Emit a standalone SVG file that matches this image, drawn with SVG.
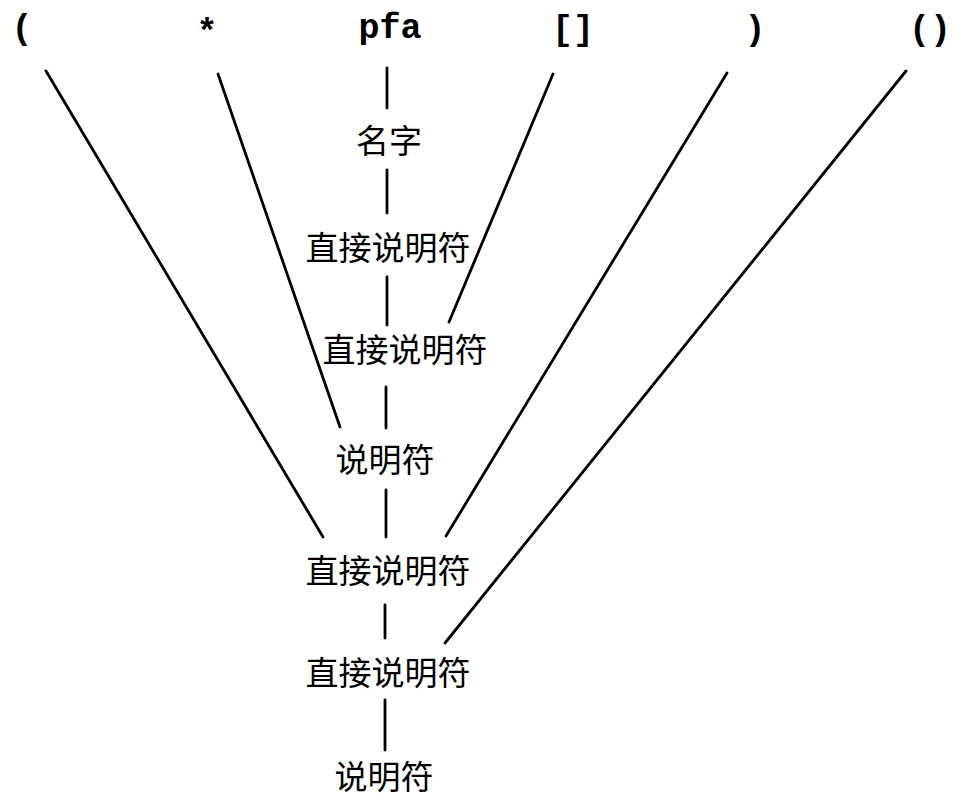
<svg xmlns="http://www.w3.org/2000/svg" width="953" height="801" viewBox="0 0 953 801">
<style>
.tok{font-family:"Liberation Mono","DejaVu Sans Mono",monospace;font-weight:bold;font-size:35px;fill:#000;text-anchor:middle}
.lbl{font-family:"Noto Sans CJK SC","Noto Sans CJK TC",sans-serif;font-size:33px;fill:#000;text-anchor:middle;dominant-baseline:central}
.ln{stroke:#000;stroke-width:2.8;fill:none;stroke-linecap:round}
</style>
<rect width="953" height="801" fill="#fff"/>
<g id="tokens">
<g id="t-lparen"><text class="tok" x="22" y="39">(</text></g>
<g id="t-star"><text class="tok" x="207" y="43">*</text></g>
<g id="t-pfa"><text class="tok" x="390" y="38">pfa</text></g>
<g id="t-brackets"><text class="tok" x="573" y="40">[]</text></g>
<g id="t-rparen"><text class="tok" x="755" y="40">)</text></g>
<g id="t-parens"><text class="tok" x="930" y="40">()</text></g>
</g>
<g id="n-name"><text class="lbl" x="389" y="139">名字</text></g>
<g id="n-dd1"><text class="lbl" x="388" y="246">直接说明符</text></g>
<g id="n-dd2"><text class="lbl" x="405" y="348">直接说明符</text></g>
<g id="n-d1"><text class="lbl" x="385" y="458">说明符</text></g>
<g id="n-dd3"><text class="lbl" x="388" y="569">直接说明符</text></g>
<g id="n-dd4"><text class="lbl" x="388" y="671">直接说明符</text></g>
<g id="n-d2"><text class="lbl" x="384" y="775">说明符</text></g>
<g id="connectors">
<line class="ln" x1="387" y1="68" x2="387" y2="108"/>
<line class="ln" x1="387" y1="170" x2="387" y2="213"/>
<line class="ln" x1="387" y1="277" x2="387" y2="325"/>
<line class="ln" x1="386" y1="387" x2="386" y2="428"/>
<line class="ln" x1="386" y1="490" x2="386" y2="537"/>
<line class="ln" x1="385" y1="605" x2="385" y2="638"/>
<line class="ln" x1="385" y1="700" x2="385" y2="750"/>
<line class="ln" x1="46" y1="71" x2="323" y2="537"/>
<line class="ln" x1="218" y1="74" x2="340" y2="427"/>
<line class="ln" x1="553" y1="74" x2="449" y2="322"/>
<line class="ln" x1="727" y1="73" x2="446" y2="536"/>
<line class="ln" x1="906" y1="71" x2="445" y2="643"/>
</g>
</svg>
